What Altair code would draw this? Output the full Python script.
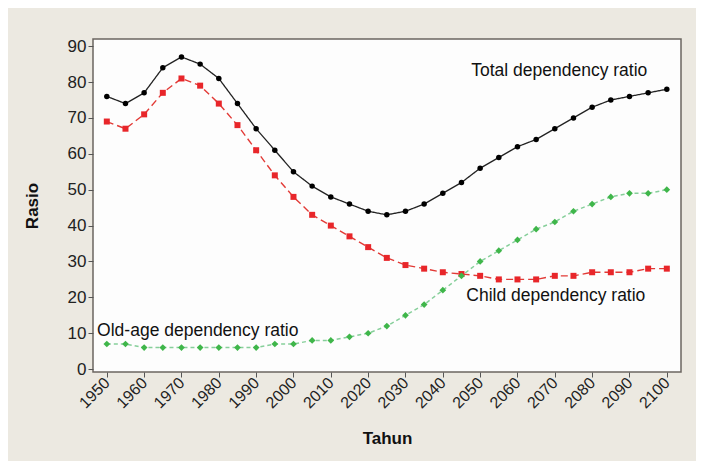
import altair as alt
import pandas as pd

years = list(range(1950, 2101, 5))
total = [76, 74, 77, 84, 87, 85, 81, 74, 67, 61, 55, 51, 48, 46, 44, 43,
         44, 46, 49, 52, 56, 59, 62, 64, 67, 70, 73, 75, 76, 77, 78]
child = [69, 67, 71, 77, 81, 79, 74, 68, 61, 54, 48, 43, 40, 37, 34, 31,
         29, 28, 27, 26.5, 26, 25, 25, 25, 26, 26, 27, 27, 27, 28, 28]
old_age = [7, 7, 6, 6, 6, 6, 6, 6, 6, 7, 7, 8, 8, 9, 10, 12,
           15, 18, 22, 26, 30, 33, 36, 39, 41, 44, 46, 48, 49, 49, 50]

x_ticks = list(range(1950, 2101, 10))
y_ticks = list(range(0, 91, 10))

label_text = ["Total dependency ratio", "Child dependency ratio", "Old-age dependency ratio"]
label_year = [2047.6, 2046.3, 1947.4]
label_value = [83.0, 20.3, 10.6]

FONT = "Liberation Sans"

df_total = pd.DataFrame({"Tahun": years, "Rasio": total})
df_child = pd.DataFrame({"Tahun": years, "Rasio": child})
df_old = pd.DataFrame({"Tahun": years, "Rasio": old_age})
df_lab = pd.DataFrame({"Tahun": label_year, "Rasio": label_value, "text": label_text})

xs = alt.Scale(domain=[1946.3, 2103.8], nice=False, zero=False)
ys = alt.Scale(domain=[-0.8, 92], nice=False, zero=False)

x_axis = alt.Axis(
    values=x_ticks, format="d", labelAngle=-45, labelAlign="right",
    labelBaseline="middle", title="Tahun", labelFontSize=16,
    titleFontSize=17, titleFontWeight="bold", tickSize=5, labelPadding=3,
    titlePadding=20, domain=False, grid=False, tickColor="#555",
    labelOverlap=False, labelFlush=False,
    labelColor="#222", titleColor="#111", labelFont=FONT, titleFont=FONT)
y_axis = alt.Axis(
    values=y_ticks, title="Rasio", labelFontSize=17, titleFontSize=17,
    titleFontWeight="bold", tickSize=5, labelPadding=2, titlePadding=26,
    labelOverlap=False, labelFlush=False,
    domain=False, grid=False, tickColor="#555", labelColor="#222",
    titleColor="#111", labelFont=FONT, titleFont=FONT)

X = alt.X("Tahun:Q", scale=xs, axis=x_axis)
Y = alt.Y("Rasio:Q", scale=ys, axis=y_axis)


def series(df, line_color, pt_color, shape, size, dash, width):
    base = alt.Chart(df).encode(x=X, y=Y)
    ln = base.mark_line(color=line_color, strokeWidth=width, strokeDash=dash)
    pt = base.mark_point(shape=shape, filled=True, color=pt_color, size=size, opacity=1)
    return [ln, pt]


red = series(df_child, "#e23a36", "#e8262a", "square", 36, [7, 4], 1.4)
black = series(df_total, "#222222", "#000000", "circle", 30, [1, 0], 1.3)
green = series(df_old, "#86cf9a", "#3fb64a", "diamond", 45, [4, 3], 1.5)

labels = alt.Chart(df_lab).mark_text(
    align="left", baseline="middle", fontSize=17.5, font=FONT, color="#111"
).encode(x=X, y=Y, text="text:N")

chart = alt.layer(*red, *black, *green, labels).properties(
    width=588, height=333,
    autosize=alt.AutoSizeParams(type="none"),
    padding={"left": 85, "top": 31, "right": 15, "bottom": 89},
    background="#ece9e1",
).configure_view(
    fill="#fdfdfd", stroke="#6b6560", strokeWidth=1.5
)

chart.save("out.html", embed_options={"renderer": "svg", "actions": False})
